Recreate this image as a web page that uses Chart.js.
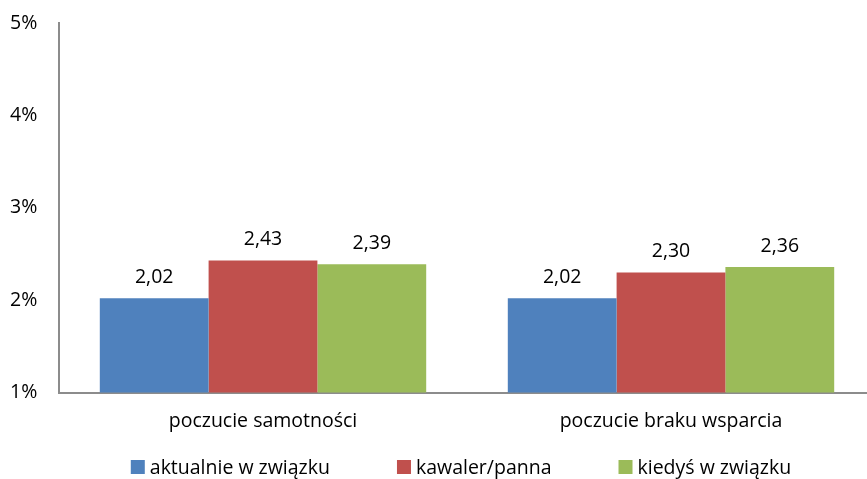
<!DOCTYPE html>
<html>
<head>
<meta charset="utf-8">
<script src="https://cdn.jsdelivr.net/npm/chart.js@4/dist/chart.umd.min.js"></script>
<style>
  html, body { margin: 0; padding: 0; background: #fff; overflow: hidden; }
  #wrap { width: 867px; height: 479px; overflow: hidden; }
</style>
</head>
<body>
<div id="wrap"><canvas id="chart" width="875" height="479"></canvas></div>
<script>
const categories = ['poczucie samotności', 'poczucie braku wsparcia'];
const seriesNames = ['aktualnie w związku', 'kawaler/panna', 'kiedyś w związku'];
const inRelationship = [2.02, 2.02];
const single = [2.43, 2.30];
const formerlyInRelationship = [2.39, 2.36];
const yTicks = [1, 2, 3, 4, 5];

const colors = ['#4F81BD', '#C0504D', '#9BBB59'];
const fontFamily = '"Open Sans", "Noto Sans", sans-serif';
const fontSize = 19.5;
const axisColor = '#8c8c8c';

// Writes each bar's value above it, with a decimal comma
const valueLabels = {
    id: 'valueLabels',
    afterDatasetsDraw(chart) {
        const ctx = chart.ctx;
        ctx.save();
        ctx.font = fontSize + 'px ' + fontFamily;
        ctx.fillStyle = '#000';
        ctx.textAlign = 'center';
        ctx.textBaseline = 'alphabetic';
        chart.data.datasets.forEach((ds, i) => {
            chart.getDatasetMeta(i).data.forEach((bar, j) => {
                const text = ds.data[j].toFixed(2).replace('.', ',');
                ctx.fillText(text, bar.x, bar.y - 15);
            });
        });
        ctx.restore();
    }
};

// Legend row under the axis: small squares with wide gaps between entries
const bottomLegend = {
    id: 'bottomLegend',
    afterDraw(chart) {
        const ctx = chart.ctx;
        const box = 14, textGap = 5, itemGap = 67;
        const y = 467;
        ctx.save();
        ctx.font = fontSize + 'px ' + fontFamily;
        ctx.textBaseline = 'middle';
        ctx.textAlign = 'left';
        const items = chart.data.datasets.map(ds => ({
            text: ds.label,
            color: ds.backgroundColor,
            width: box + textGap + ctx.measureText(ds.label).width
        }));
        const total = items.reduce((s, it) => s + it.width, 0) + itemGap * (items.length - 1);
        const center = (chart.chartArea.left + chart.chartArea.right) / 2 - 6;
        let x = center - total / 2;
        items.forEach(it => {
            ctx.fillStyle = it.color;
            ctx.fillRect(x, y - box / 2, box, box);
            ctx.fillStyle = '#000';
            ctx.fillText(it.text, x + box + textGap, y + 1);
            x += it.width + itemGap;
        });
        ctx.restore();
    }
};

const datasets = [inRelationship, single, formerlyInRelationship].map((values, i) => ({
    label: seriesNames[i],
    data: values,
    backgroundColor: colors[i],
    borderWidth: 0,
    categoryPercentage: 0.8,
    barPercentage: 1.0
}));

new Chart(document.getElementById('chart'), {
    type: 'bar',
    data: { labels: categories, datasets: datasets },
    options: {
        responsive: false,
        animation: false,
        layout: { padding: { top: 23, right: 0, bottom: 29, left: 10 } },
        plugins: {
            legend: { display: false },
            tooltip: { enabled: false }
        },
        scales: {
            x: {
                grid: { display: false, drawTicks: false },
                border: { color: axisColor, width: 2 },
                ticks: {
                    font: { family: fontFamily, size: fontSize },
                    color: '#000',
                    padding: 17
                }
            },
            y: {
                min: 1,
                max: 5,
                grid: { display: false, drawTicks: false },
                border: { color: axisColor, width: 2 },
                afterBuildTicks(scale) {
                    scale.ticks = yTicks.map(v => ({ value: v }));
                },
                ticks: {
                    font: { family: fontFamily, size: fontSize },
                    color: '#000',
                    padding: 0,
                    crossAlign: 'far',
                    callback: v => v + '%'
                },
                afterFit(scale) {
                    scale.width = 49;
                }
            }
        }
    },
    plugins: [valueLabels, bottomLegend]
});
</script>
</body>
</html>
